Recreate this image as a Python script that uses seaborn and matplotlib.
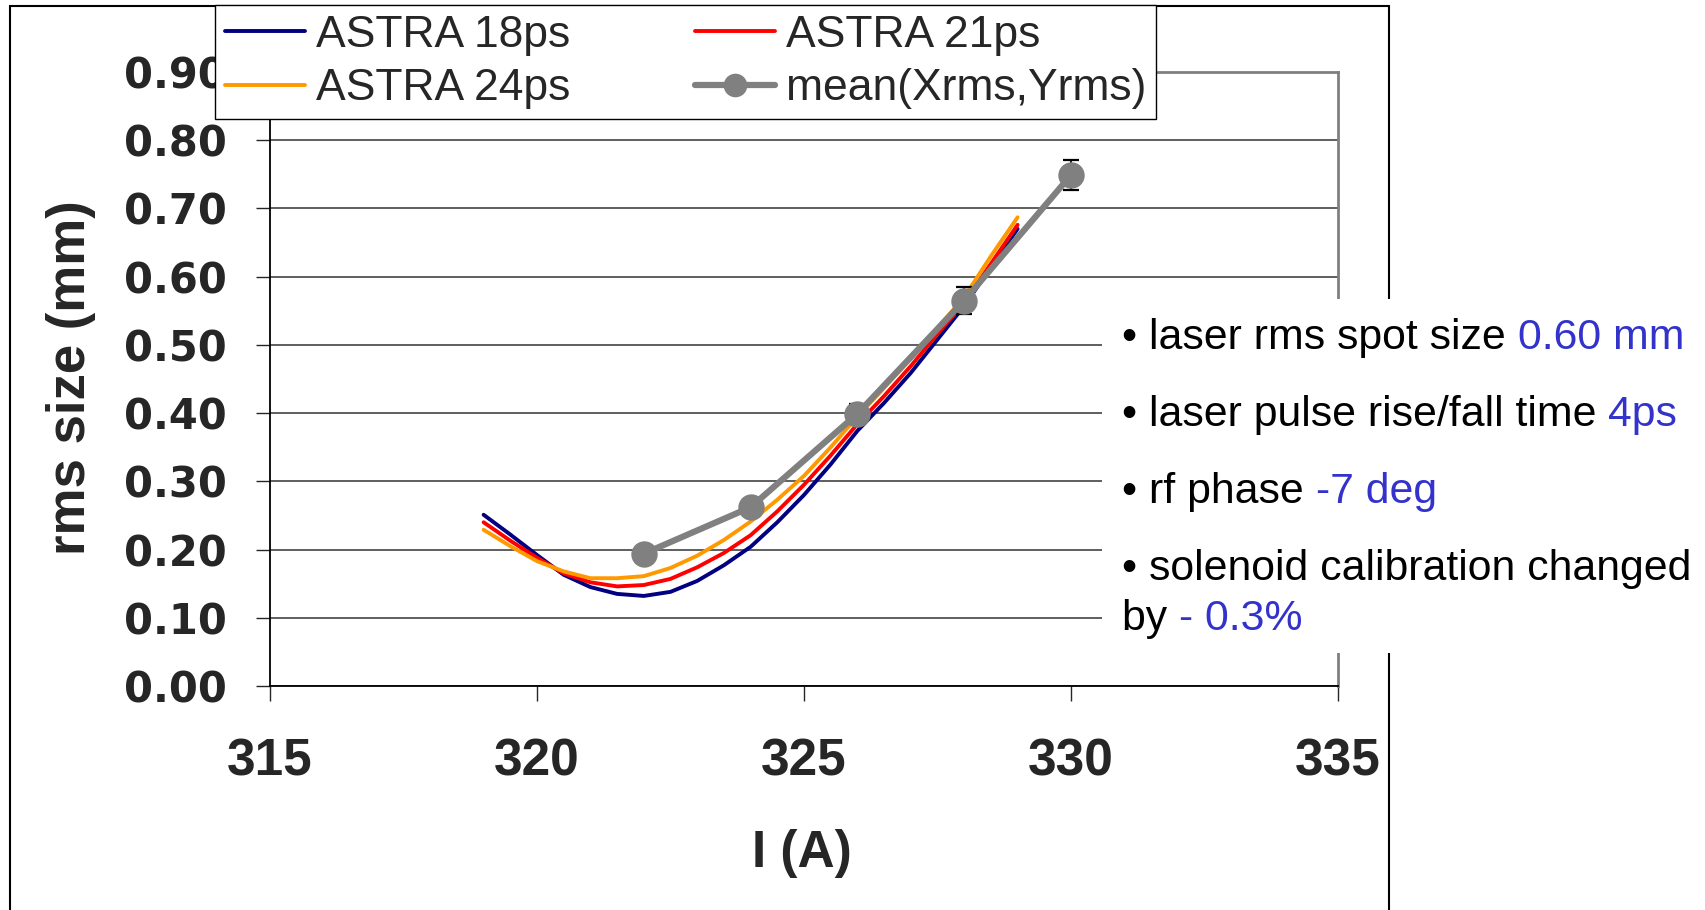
import numpy as np
import pandas as pd
import matplotlib
matplotlib.use("Agg")
import matplotlib.pyplot as plt
from matplotlib.lines import Line2D
from matplotlib.patches import Rectangle
from matplotlib.text import Annotation
import seaborn as sns

# simulation grid (solenoid current, A)
current = [319.0, 319.5, 320.0, 320.5, 321.0, 321.5, 322.0, 322.5, 323.0, 323.5,
           324.0, 324.5, 325.0, 325.5, 326.0, 326.5, 327.0, 327.5, 328.0, 328.5, 329.0]
astra_18ps = [0.251, 0.222, 0.192, 0.163, 0.145, 0.135, 0.132, 0.138, 0.154, 0.177,
              0.204, 0.240, 0.280, 0.325, 0.374, 0.415, 0.459, 0.508, 0.557, 0.614, 0.670]
astra_21ps = [0.240, 0.213, 0.188, 0.165, 0.152, 0.146, 0.148, 0.157, 0.174, 0.195,
              0.221, 0.256, 0.295, 0.338, 0.384, 0.425, 0.469, 0.516, 0.562, 0.619, 0.676]
astra_24ps = [0.229, 0.205, 0.183, 0.168, 0.158, 0.158, 0.161, 0.173, 0.191, 0.214,
              0.241, 0.273, 0.308, 0.350, 0.395, 0.437, 0.480, 0.525, 0.570, 0.630, 0.687]

# measurement: mean(Xrms, Yrms)
meas_current = [322, 324, 326, 328, 330]
meas_rms = [0.194, 0.262, 0.399, 0.565, 0.749]
meas_err = [0.008, 0.010, 0.015, 0.020, 0.022]

series_names = ["ASTRA 18ps", "ASTRA 21ps", "ASTRA 24ps"]
series_colors = ["#000080", "#FF0000", "#FF9900"]
meas_name = "mean(Xrms,Yrms)"

x_ticks = [315, 320, 325, 330, 335]
y_ticks = [0.0, 0.1, 0.2, 0.3, 0.4, 0.5, 0.6, 0.7, 0.8, 0.9]

notes = [("\u2022 laser rms spot size ", "0.60 mm"),
         ("\u2022 laser pulse rise/fall time ", "4ps"),
         ("\u2022 rf phase ", "-7 deg"),
         ("\u2022 solenoid calibration changed", ""),
         ("by ", "- 0.3%")]

sns.set_style("white")
plt.rcParams["font.family"] = ["Liberation Sans", "DejaVu Sans"]

W, H = 1705, 910
fig = plt.figure(figsize=(W / 100, H / 100), dpi=100)
ax = fig.add_axes([270 / W, 1 - 686 / H, (1338 - 270) / W, (686 - 72) / H])

df = pd.DataFrame({
    "I": current * 3,
    "rms": astra_18ps + astra_21ps + astra_24ps,
    "series": sum([[n] * len(current) for n in series_names], []),
})
sns.lineplot(data=df, x="I", y="rms", hue="series", palette=series_colors,
             estimator=None, sort=False, linewidth=2.8, legend=False, ax=ax, zorder=3)

ax.errorbar(meas_current, meas_rms, yerr=meas_err, fmt="none", ecolor="black",
            elinewidth=1.2, capsize=6, capthick=1.6, zorder=4)
sns.lineplot(x=meas_current, y=meas_rms, color="#808080", marker="o", markersize=19,
             markeredgewidth=0, linewidth=4.5, ax=ax, zorder=5)

ax.set_xlim(315, 335)
ax.set_ylim(0, 0.9)
ax.set_xticks(x_ticks)
ax.set_yticks(y_ticks)
ax.set_yticklabels([f"{v:.2f}" for v in y_ticks], family="DejaVu Sans",
                   fontweight="bold", fontsize=30)
ax.set_xticklabels([str(v) for v in x_ticks], fontweight="bold", fontsize=37)
ax.tick_params(axis="y", direction="out", length=10, width=1, pad=21, left=True)
ax.tick_params(axis="x", direction="out", length=11, width=1, pad=26, bottom=True)
ax.yaxis.grid(True, color="#333333", linewidth=1.1)
ax.xaxis.grid(False)
for s in ["left", "bottom"]:
    ax.spines[s].set_color("black")
    ax.spines[s].set_linewidth(1.3)
for s in ["top", "right"]:
    ax.spines[s].set_color("#808080")
    ax.spines[s].set_linewidth(2)
ax.set_xlabel("")
ax.set_ylabel("")

fig.text(802 / W, 1 - 853 / H, "I (A)", fontsize=37, fontweight="bold",
         ha="center", va="center")
fig.text(71 / W, 1 - 378 / H, "rms size (mm)", fontsize=38, fontweight="bold",
         ha="center", va="center", rotation=90)

# outer chart frame
fig.add_artist(Rectangle((10 / W, -0.05), (1389 - 10) / W, 1.05 - 6 / H, fill=False,
                         edgecolor="black", linewidth=1.5, transform=fig.transFigure,
                         zorder=0.5))
# white text box over the plot's right side
fig.add_artist(Rectangle((1102 / W, 1 - 653 / H), 1 - 1102 / W, (653 - 299) / H,
                         facecolor="white", edgecolor="none", transform=fig.transFigure,
                         zorder=1))

baselines = [349, 426, 503, 580, 630]
for (black, blue), yb in zip(notes, baselines):
    t = fig.text(1122 / W, 1 - yb / H, black, fontsize=30.8, color="black",
                 ha="left", va="baseline", zorder=6)
    if blue:
        fig.add_artist(Annotation(blue, xy=(1, 0), xycoords=t, fontsize=30.8,
                                  color="#3333CC", ha="left", va="bottom", zorder=6))

handles = [Line2D([], [], color=c, lw=2.8) for c in series_colors]
handles.append(Line2D([], [], color="#808080", lw=4.5, marker="o", markersize=17,
                      markeredgewidth=0))
labels = series_names + [meas_name]
order = [0, 2, 1, 3]
leg = fig.legend([handles[i] for i in order], [labels[i] for i in order], ncol=2,
                 loc="upper left", bbox_to_anchor=(215 / W, 1 - 5 / H), fontsize=32,
                 frameon=True, fancybox=False, edgecolor="black", framealpha=1,
                 handlelength=1.8, handletextpad=0.25, columnspacing=2.8,
                 borderpad=0.22, labelspacing=0.28, borderaxespad=0)
leg.get_frame().set_linewidth(1.0)
leg.set_zorder(7)

fig.savefig("out.png", dpi=100)
